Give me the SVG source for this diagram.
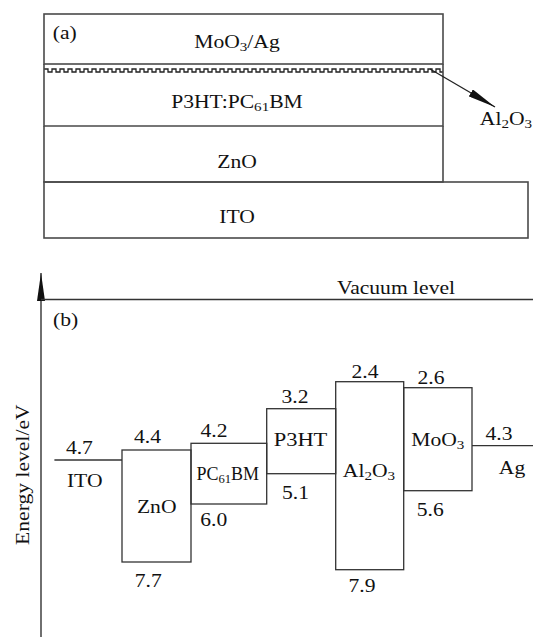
<svg xmlns="http://www.w3.org/2000/svg" width="533" height="637" viewBox="0 0 533 637">
<style>
.t{font-family:"Liberation Serif","Times New Roman",serif;font-size:18px;fill:#111;text-anchor:middle}
.st{text-anchor:start}
.s{font-size:12.6px}
.lay{fill:none;stroke:#4a4a4a;stroke-width:1.6}
.box{fill:none;stroke:#333;stroke-width:1.3}
.ln{fill:none;stroke:#222;stroke-width:1.3}
</style>
<defs>
<marker id="ah" markerUnits="userSpaceOnUse" markerWidth="28" markerHeight="8" viewBox="0 0 28 8" refX="28" refY="4" orient="auto">
<path d="M0,0 L28,4 L0,8 Z" fill="#111"/>
</marker>
</defs>
<rect width="533" height="637" fill="#fff"/>

<!-- Panel (a) -->
<g id="a-moo3ag">
<rect class="lay" x="44" y="14" width="399" height="50"/>
<text class="t st" transform="translate(52.7,39) scale(1.2,1)">(a)</text>
<text class="t" transform="translate(237,48) scale(1.2,1)">MoO<tspan class="s" dy="3">3</tspan><tspan dy="-3">/Ag</tspan></text>
</g>
<g id="a-al2o3">
<path class="ln" stroke-width="1.2" d="M44,69 h4 v3 h4 v-3 h4 v3 h4 v-3 h4 v3 h4 v-3 h4 v3 h4 v-3 h4 v3 h4 v-3 h4 v3 h4 v-3 h4 v3 h4 v-3 h4 v3 h4 v-3 h4 v3 h4 v-3 h4 v3 h4 v-3 h4 v3 h4 v-3 h4 v3 h4 v-3 h4 v3 h4 v-3 h4 v3 h4 v-3 h4 v3 h4 v-3 h4 v3 h4 v-3 h4 v3 h4 v-3 h4 v3 h4 v-3 h4 v3 h4 v-3 h4 v3 h4 v-3 h4 v3 h4 v-3 h4 v3 h4 v-3 h4 v3 h4 v-3 h4 v3 h4 v-3 h4 v3 h4 v-3 h4 v3 h4 v-3 h4 v3 h4 v-3 h4 v3 h4 v-3 h4 v3 h4 v-3 h4 v3 h4 v-3 h4 v3 h4 v-3 h4 v3 h4 v-3 h4 v3 h4 v-3 h4 v3 h4 v-3 h4 v3 h4 v-3 h4 v3 h4 v-3 h4 v3 h4 v-3 h4 v3 h4 v-3 h4 v3 h4 v-3 h4 v3 h4 v-3 h4 v3 h4 v-3 h4 v3 h4 v-3 h4 v3 h4 v-3 h4 v3 h4 v-3 h4 v3 h4 v-3 h4 v3 h4 v-3 h4 v3 h4 v-3 h4 v3 h4 v-3 h4 v3 h4 v-3 h4 v3 h3"/>
<text class="t" transform="translate(506,125) scale(1.2,1)">Al<tspan class="s" dy="3">2</tspan><tspan dy="-3">O</tspan><tspan class="s" dy="3">3</tspan></text>
</g>
<g id="a-p3ht">
<path class="lay" d="M44,64 V126 H443 V64"/>
<text class="t" transform="translate(237,108) scale(1.2,1)">P3HT:PC<tspan class="s" dy="3">61</tspan><tspan dy="-3">BM</tspan></text>
</g>
<g id="a-zno">
<path class="lay" d="M44,126 V182 H443 V126"/>
<text class="t" transform="translate(237,168) scale(1.2,1)">ZnO</text>
</g>
<g id="a-ito">
<rect class="lay" x="44" y="182" width="484" height="56"/>
<text class="t" transform="translate(237,223) scale(1.2,1)">ITO</text>
</g>

<!-- Panel (b) axes -->
<g id="b-axes">
<line class="ln" x1="41" y1="637" x2="41" y2="273" marker-end="url(#ah)"/>
<line class="box" x1="41" y1="299.5" x2="533" y2="299.5"/>
<text class="t" transform="translate(396,294) scale(1.2,1)">Vacuum level</text>
<text class="t st" transform="translate(53,326) scale(1.2,1)">(b)</text>
<text class="t" transform="translate(28.5,474.7) rotate(-90) scale(1.2,1)">Energy level/eV</text>
</g>

<g id="b-ito">
<line class="box" x1="54.4" y1="460" x2="122" y2="460"/>
<text class="t" transform="translate(79.4,454) scale(1.2,1)">4.7</text>
<text class="t" transform="translate(84.7,487) scale(1.2,1)">ITO</text>
</g>
<g id="b-zno">
<rect class="box" x="122" y="450" width="69" height="112"/>
<text class="t" transform="translate(147.5,443) scale(1.2,1)">4.4</text>
<text class="t" transform="translate(156.7,513.3) scale(1.2,1)">ZnO</text>
<text class="t" transform="translate(148.3,586.7) scale(1.2,1)">7.7</text>
</g>
<g id="b-pcbm">
<rect class="box" x="191" y="443.3" width="75.7" height="60.7"/>
<text class="t" transform="translate(214,437) scale(1.2,1)">4.2</text>
<text class="t" transform="translate(227.8,480)">PC<tspan class="s" dy="3">61</tspan><tspan dy="-3">BM</tspan></text>
<text class="t" transform="translate(213.7,526) scale(1.2,1)">6.0</text>
</g>
<g id="b-p3ht">
<rect class="box" x="266.7" y="408.7" width="69" height="65"/>
<text class="t" transform="translate(295,403) scale(1.2,1)">3.2</text>
<text class="t" transform="translate(300.5,446) scale(1.25,1)">P3HT</text>
<text class="t" transform="translate(295.5,498.7) scale(1.2,1)">5.1</text>
</g>
<g id="b-al2o3">
<rect class="box" x="335.7" y="381.7" width="68" height="188"/>
<text class="t" transform="translate(365,378) scale(1.2,1)">2.4</text>
<text class="t" transform="translate(369,476.7) scale(1.2,1)">Al<tspan class="s" dy="3">2</tspan><tspan dy="-3">O</tspan><tspan class="s" dy="3">3</tspan></text>
<text class="t" transform="translate(362,591.7) scale(1.2,1)">7.9</text>
</g>
<g id="b-moo3">
<rect class="box" x="403.7" y="387.7" width="68.3" height="103"/>
<text class="t" transform="translate(431,383.5) scale(1.2,1)">2.6</text>
<text class="t" transform="translate(437.8,446) scale(1.2,1)">MoO<tspan class="s" dy="3">3</tspan></text>
<text class="t" transform="translate(430.3,516) scale(1.2,1)">5.6</text>
</g>
<g id="b-ag">
<line class="box" x1="472" y1="445.7" x2="533" y2="445.7"/>
<text class="t" transform="translate(499,440) scale(1.2,1)">4.3</text>
<text class="t" transform="translate(512,474) scale(1.2,1)">Ag</text>
</g>

<g id="connectors">
<line class="ln" x1="430" y1="69" x2="495" y2="107" marker-end="url(#ah)"/>
</g>
</svg>
